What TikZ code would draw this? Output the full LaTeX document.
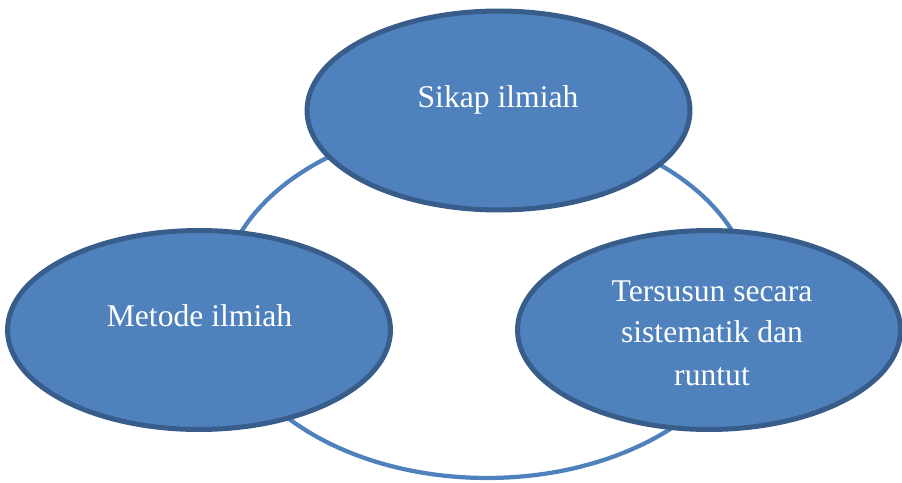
\documentclass[tikz,border=0pt]{standalone}
\usepackage{fontspec}
\setmainfont{Liberation Serif}
\usetikzlibrary{shapes.geometric}
\definecolor{bubblefill}{HTML}{4F81BD}
\definecolor{bubbleedge}{HTML}{385D8A}
\definecolor{ringblue}{HTML}{4F81BD}
\begin{document}
\begin{tikzpicture}[x=0.02cm, y=-0.02cm,
  bubble/.style={ellipse, fill=bubblefill, draw=bubbleedge, line width=0.1cm,
    minimum width=7.66cm, minimum height=3.98cm, inner sep=0pt},
  ring/.style={ellipse, draw=ringblue, line width=0.085cm,
    minimum width=10.64cm, minimum height=7.12cm, inner sep=0pt},
  caption/.style={text=white, anchor=base, inner sep=0pt,
    font=\fontsize{18}{22}\selectfont}]
  \useasboundingbox (0,0) rectangle (902,483);
  % cycle ring behind the three bubbles
  \node[ring] (cycle) at (487,300) {};
  % bubbles
  \node[bubble] (sikap) at (498.5,110.5) {};
  \node[bubble] (metode) at (199,330) {};
  \node[bubble] (tersusun) at (709,330) {};
  % captions
  \node[caption] (tsikap) at (498,108) {Sikap ilmiah};
  \node[caption] (tmetode) at (199.5,326) {Metode ilmiah};
  \node[caption] (tt1) at (712,301) {Tersusun secara};
  \node[caption] (tt2) at (712,342) {sistematik dan};
  \node[caption] (tt3) at (712,385) {runtut};
\end{tikzpicture}
\end{document}
